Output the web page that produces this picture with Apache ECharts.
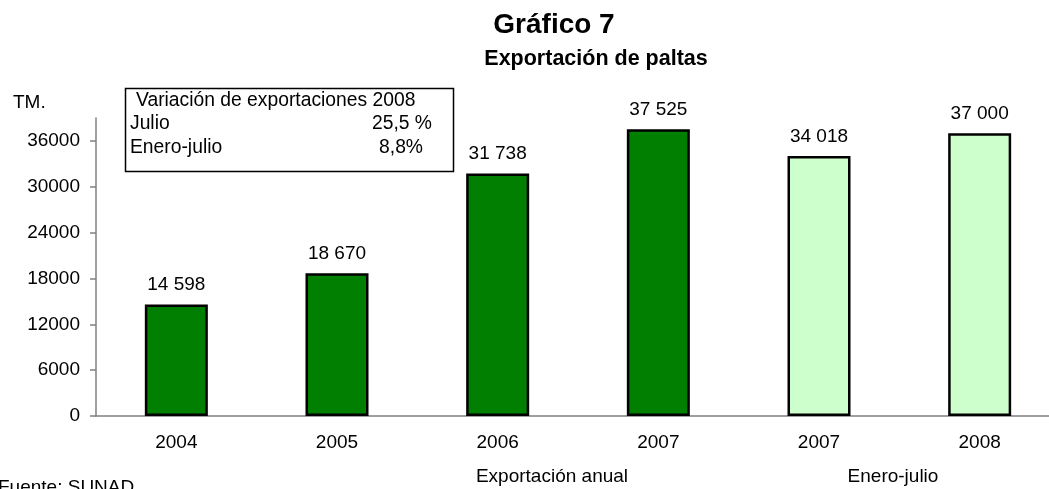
<!DOCTYPE html>
<html>
<head>
<meta charset="utf-8">
<script src="https://cdn.jsdelivr.net/npm/echarts@6/dist/echarts.min.js"></script>
<style>
  html, body { margin: 0; padding: 0; background: #fff; }
  #chart { width: 1049px; height: 489px; }
</style>
</head>
<body>
<div id="chart"></div>
<script>
// datos
const years = ['2004', '2005', '2006', '2007', '2007', '2008'];
const exports = [14598, 18670, 31738, 37525, 34018, 37000];
const yTicks = [0, 6000, 12000, 18000, 24000, 30000, 36000];
const annualCount = 4; // las 4 primeras barras son exportación anual
const boxLines = [['Julio', '25,5 %'], ['Enero-julio', '8,8%']];

const font = '"Liberation Sans", Arial, sans-serif';
const chart = echarts.init(document.getElementById('chart'));

// separador de miles con espacio
const fmt = v => String(v).replace(/\B(?=(\d{3})+(?!\d))/g, ' ');

const option = {
  animation: false,
  textStyle: { fontFamily: font },
  // el eje x sigue un poco más allá del borde derecho
  grid: { left: 96, width: 964, top: 118, height: 298, outerBoundsMode: 'none' },
  xAxis: {
    type: 'category',
    data: years,
    axisLine: { lineStyle: { color: '#808080', width: 1.5 } },
    axisTick: { length: 6, lineStyle: { color: '#808080', width: 1.5 } },
    axisLabel: { color: '#000', fontSize: 19, margin: 17, fontFamily: font }
  },
  yAxis: {
    type: 'value',
    min: 0,
    max: 39000,
    interval: 6000,
    splitLine: { show: false },
    axisLine: { show: true, lineStyle: { color: '#808080', width: 1.5 } },
    axisTick: { show: true, length: 6, customValues: yTicks, lineStyle: { color: '#808080', width: 1.5 } },
    axisLabel: { color: '#000', fontSize: 19, margin: 16, customValues: yTicks, fontFamily: font, formatter: v => String(v) }
  },
  series: [{
    type: 'bar',
    data: exports,
    barWidth: 63,
    itemStyle: {
      color: p => p.dataIndex < annualCount ? '#007F00' : '#CCFFCC',
      borderColor: '#000',
      borderWidth: 2.5
    },
    label: {
      show: true,
      position: 'top',
      distance: 10,
      color: '#000',
      fontSize: 19,
      fontFamily: font,
      formatter: p => fmt(p.value)
    }
  }],
  graphic: [
    { type: 'text', x: 554, y: 25, style: { text: 'Gráfico 7', font: 'bold 28px ' + font, fill: '#000', align: 'center', verticalAlign: 'middle' } },
    { type: 'text', x: 596, y: 59, style: { text: 'Exportación de paltas', font: 'bold 21.5px ' + font, fill: '#000', align: 'center', verticalAlign: 'middle' } },
    { type: 'text', x: 13, y: 103, style: { text: 'TM.', font: '19px ' + font, fill: '#000', verticalAlign: 'middle' } },
    // cuadro de variación
    { type: 'rect', shape: { x: 125.5, y: 88.5, width: 328, height: 83 }, style: { fill: '#fff', stroke: '#000', lineWidth: 1.5 } },
    { type: 'text', x: 136, y: 101, style: { text: 'Variación de exportaciones 2008', font: '19.3px ' + font, fill: '#000', verticalAlign: 'middle' } },
    { type: 'text', x: 130, y: 124, style: { text: boxLines[0][0], font: '19.3px ' + font, fill: '#000', verticalAlign: 'middle' } },
    { type: 'text', x: 432, y: 124, style: { text: boxLines[0][1], font: '19.3px ' + font, fill: '#000', align: 'right', verticalAlign: 'middle' } },
    { type: 'text', x: 130, y: 148, style: { text: boxLines[1][0], font: '19.3px ' + font, fill: '#000', verticalAlign: 'middle' } },
    { type: 'text', x: 423, y: 148, style: { text: boxLines[1][1], font: '19.3px ' + font, fill: '#000', align: 'right', verticalAlign: 'middle' } },
    // textos inferiores
    { type: 'text', x: 552, y: 477, style: { text: 'Exportación anual', font: '19px ' + font, fill: '#000', align: 'center', verticalAlign: 'middle' } },
    { type: 'text', x: 893, y: 477, style: { text: 'Enero-julio', font: '19px ' + font, fill: '#000', align: 'center', verticalAlign: 'middle' } },
    { type: 'text', x: -2, y: 488, style: { text: 'Fuente: SUNAD', font: '19px ' + font, fill: '#000', verticalAlign: 'middle' } }
  ]
};

chart.setOption(option);
</script>
</body>
</html>
